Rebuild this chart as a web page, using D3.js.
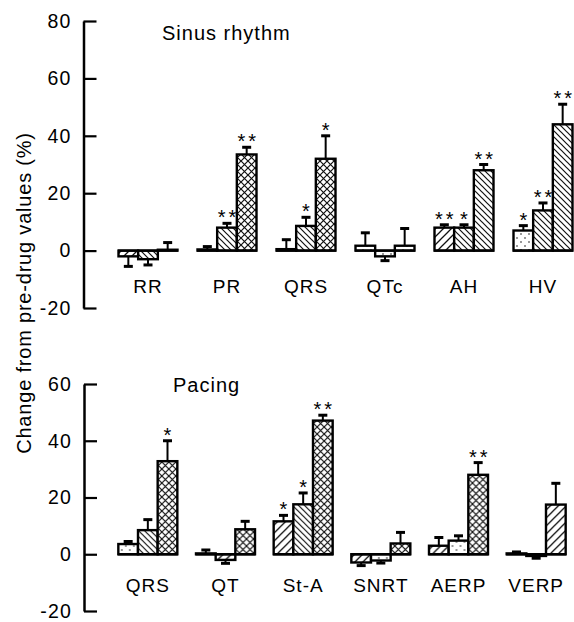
<!DOCTYPE html>
<html>
<head>
<meta charset="utf-8">
<script src="https://cdn.jsdelivr.net/npm/d3@7"></script>
<style>
  body { margin: 0; background: #fff; }
  text { font-family: "Liberation Sans", Arial, sans-serif; fill: #000; }
</style>
</head>
<body>
<svg id="chart" width="574" height="622"></svg>
<script>
// sinus rhythm panel
const sinusCats = ["RR", "PR", "QRS", "QTc", "AH", "HV"];
const sinusMeans = [[-2, -3, 0.3], [0.4, 8, 33.5], [0.5, 8.6, 32], [1.7, -2, 1.7], [8, 8, 28], [7, 14, 44]];
const sinusErrs = [[3.5, 2, 2.5], [1, 1.5, 2.5], [3.3, 3, 8], [4.5, 1.5, 6], [1, 1, 2], [1.7, 2.6, 7]];
const sinusSig = [["", "", ""], ["", "**", "**"], ["", "*", "*"], ["", "", ""], ["**", "*", "**"], ["*", "**", "**"]];
const sinusFills = [["fwd", "back", "fwd"], ["dots", "back", "cross"], ["dots", "back", "cross"],
                    ["dots", "dots", "dots"], ["fwd", "back", "back"], ["dots", "back", "back"]];
const sinusTicks = [-20, 0, 20, 40, 60, 80];

// pacing panel
const pacingCats = ["QRS", "QT", "St-A", "SNRT", "AERP", "VERP"];
const pacingMeans = [[3.6, 8.5, 32.8], [0.3, -2, 8.8], [11.6, 17.6, 47.1], [-2.9, -2.2, 3.8], [3, 4.8, 28], [0.3, -0.6, 17.5]];
const pacingErrs = [[0.9, 3.7, 7.2], [1.2, 1.2, 2.8], [2.1, 4, 1.9], [1.1, 0.9, 3.9], [2.9, 1.7, 4.3], [0.5, 0.8, 7.5]];
const pacingSig = [["", "", "*"], ["", "", ""], ["*", "*", "**"], ["", "", ""], ["", "", "**"], ["", "", ""]];
const pacingFills = [["dots", "back", "cross"], ["dots", "fwd", "cross"], ["fwd", "back", "cross"],
                     ["fwd", "dots", "cross"], ["fwd", "dots", "cross"], ["dots", "dots", "fwd"]];
const pacingTicks = [-20, 0, 20, 40, 60];

const yLabel = "Change from pre-drug values (%)";

const svg = d3.select("#chart");
svg.append("rect").attr("width", 574).attr("height", 622).attr("fill", "#fff");

// hatch patterns
const defs = svg.append("defs");
function pattern(id, size, draw) {
    const p = defs.append("pattern").attr("id", id)
        .attr("patternUnits", "userSpaceOnUse").attr("width", size).attr("height", size);
    p.append("rect").attr("width", size).attr("height", size).attr("fill", "#fff");
    draw(p, size);
}
pattern("fwd", 8, (p, s) => {
    p.append("path").attr("d", `M0,${s} L${s},0 M-2,2 L2,-2 M${s - 2},${s + 2} L${s + 2},${s - 2}`)
        .attr("stroke", "#111").attr("stroke-width", 1.3);
});
pattern("back", 6, (p, s) => {
    p.append("path").attr("d", `M0,0 L${s},${s} M-2,${s - 2} L2,${s + 2} M${s - 2},-2 L${s + 2},2`)
        .attr("stroke", "#111").attr("stroke-width", 1.2);
});
pattern("cross", 7, (p, s) => {
    p.append("path").attr("d", `M0,0 L${s},${s} M0,${s} L${s},0`)
        .attr("stroke", "#111").attr("stroke-width", 1.2);
});
pattern("dots", 8, (p, s) => {
    p.append("path").attr("d", "M1,2 L3,2 M5,6 L7,6")
        .attr("stroke", "#333").attr("stroke-width", 1.2);
});

function panel(cats, means, errs, sig, fills, ticks, domain, yRange, xRange, title, titlePos, labelY) {
    const y = d3.scaleLinear().domain(domain).range(yRange);
    const x = d3.scaleBand().domain(cats).range(xRange);
    const inner = d3.scaleBand().domain([0, 1, 2]).range([-29.5, 29.5]);
    const axisX = xRange[0] - 25;

    const ax = svg.append("g").attr("transform", `translate(${axisX},0)`)
        .call(d3.axisLeft(y).tickValues(ticks).tickSize(-13).tickSizeOuter(0)
            .tickPadding(12).tickFormat(d => String(d)));
    ax.select(".domain").attr("stroke", "#000").attr("stroke-width", 2.5);
    ax.selectAll(".tick line").attr("stroke", "#000").attr("stroke-width", 2.2);
    ax.selectAll(".tick text").attr("font-size", 19.5).attr("letter-spacing", 1.2)
        .attr("font-family", "Liberation Sans, Arial, sans-serif").attr("fill", "#000");

    svg.append("text").attr("x", titlePos[0]).attr("y", titlePos[1])
        .attr("font-size", 20).attr("letter-spacing", 1).text(title);

    cats.forEach((c, i) => {
        const g = svg.append("g").attr("transform", `translate(${x(c) + x.bandwidth() / 2},0)`);
        const rows = means[i].map((m, j) => ({ m: m, e: errs[i][j], s: sig[i][j], f: fills[i][j], j: j }));

        // error bars
        rows.forEach(r => {
            const cx = inner(r.j) + inner.bandwidth() / 2;
            const dir = r.m < 0 ? -1 : 1;
            const end = y(r.m + dir * r.e);
            g.append("line").attr("x1", cx).attr("x2", cx).attr("y1", y(r.m)).attr("y2", end)
                .attr("stroke", "#000").attr("stroke-width", 2);
            g.append("line").attr("x1", cx - 4.5).attr("x2", cx + 4.5).attr("y1", end).attr("y2", end)
                .attr("stroke", "#000").attr("stroke-width", 3);
            if (r.s) {
                g.append("text").attr("x", cx).attr("y", end + 1)
                    .attr("text-anchor", "middle").attr("font-size", 20)
                    .attr("letter-spacing", r.s.length > 1 ? 3 : 0)
                    .attr("dx", r.s.length > 1 ? 1.5 : 0)
                    .text(r.s);
            }
        });

        g.selectAll("rect.bar").data(rows).join("rect").attr("class", "bar")
            .attr("x", d => inner(d.j))
            .attr("width", inner.bandwidth())
            .attr("y", d => Math.min(y(d.m), y(0)))
            .attr("height", d => Math.abs(y(d.m) - y(0)))
            .attr("fill", d => `url(#${d.f})`)
            .attr("stroke", "#000").attr("stroke-width", 2.4);

        // baseline under group
        g.append("line").attr("x1", -30).attr("x2", 30).attr("y1", y(0)).attr("y2", y(0))
            .attr("stroke", "#000").attr("stroke-width", 2.4);

        g.append("text").attr("x", 0).attr("y", labelY).attr("text-anchor", "middle")
            .attr("font-size", 19).attr("letter-spacing", 1).text(c);
    });
}

panel(sinusCats, sinusMeans, sinusErrs, sinusSig, sinusFills, sinusTicks,
    [-20, 80], [308, 21], [108.5, 582.5], "Sinus rhythm", [162, 40], 293);
panel(pacingCats, pacingMeans, pacingErrs, pacingSig, pacingFills, pacingTicks,
    [-20, 60], [611, 384], [109, 575], "Pacing", [173, 392], 592);

svg.append("text").attr("transform", "translate(31,293) rotate(-90)")
    .attr("text-anchor", "middle").attr("font-size", 20).attr("letter-spacing", 0.8)
    .text(yLabel);
</script>
</body>
</html>
